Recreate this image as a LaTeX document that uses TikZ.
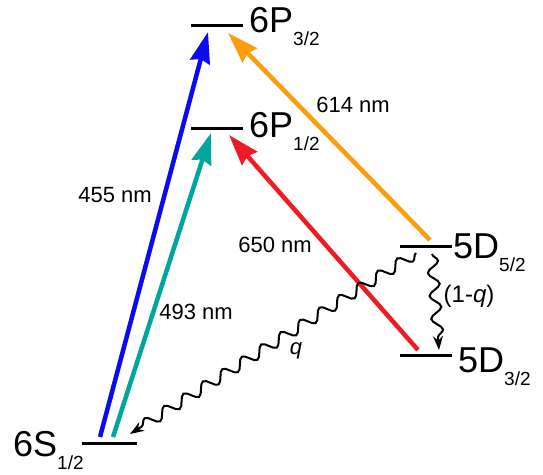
\documentclass[tikz,border=0pt]{standalone}
\usepackage{fontspec}
\setmainfont{Liberation Sans}
\usetikzlibrary{arrows.meta,decorations.pathmorphing}

% level label: big term symbol with lowered J value
\newcommand{\lvl}[2]{#1\raisebox{-13pt}{\fontsize{19}{19}\selectfont #2}}

\begin{document}
\begin{tikzpicture}[x=1pt, y=-1pt, font=\fontsize{22}{26}\selectfont,
    level/.style={line width=3pt},
    term/.style={anchor=base west, inner sep=0pt, font=\fontsize{36}{40}\selectfont},
    laser/.style={line width=4.5pt, -{Stealth[length=31pt,width=20pt,inset=3pt]}},
    decay/.style={line width=2pt, -{Stealth[length=14pt,width=10pt]},
      decorate, decoration={snake, amplitude=5.5pt, segment length=23pt, post length=9pt}}]

  \definecolor{cBlue}{RGB}{10,10,245}
  \definecolor{cTeal}{RGB}{0,166,156}
  \definecolor{cRed}{RGB}{237,28,36}
  \definecolor{cOrange}{RGB}{253,157,11}

  \useasboundingbox (0,0) rectangle (543,474);

  % levels
  \draw[level] (82,443) -- (137,443);
  \draw[level] (191,128) -- (243,128);
  \draw[level] (191,25) -- (243,25);
  \draw[level] (400,246) -- (452,246);
  \draw[level] (400,355) -- (452,355);

  \node[term] (S12) at (13,456) {\lvl{6S}{1/2}};
  \node[term] (P12) at (249,137) {\lvl{6P}{1/2}};
  \node[term] (P32) at (249,32) {\lvl{6P}{3/2}};
  \node[term] (D52) at (453,258) {\lvl{5D}{5/2}};
  \node[term] (D32) at (458,372) {\lvl{5D}{3/2}};

  % arrow ends on the levels
  \coordinate (sBlue) at (100,437);
  \coordinate (sTeal) at (113,437);
  \coordinate (sDecay) at (130,434);
  \coordinate (pBlue) at (208,32);
  \coordinate (pOrange) at (228,33);
  \coordinate (pTeal) at (211,133);
  \coordinate (pRed) at (229,135);
  \coordinate (dOrange) at (430,240);
  \coordinate (dRed) at (418,350);
  \coordinate (dq) at (416,253);
  \coordinate (dOne) at (432,254);
  \coordinate (dThree) at (439,350);

  % lasers
  \draw[laser, cBlue] (sBlue) -- (pBlue);
  \draw[laser, cTeal] (sTeal) -- (pTeal);
  \draw[laser, cRed] (dRed) -- (pRed);
  \draw[laser, cOrange] (dOrange) -- (pOrange);

  % spontaneous decay
  \draw[decay] (dq) -- (sDecay);
  \draw[decay] (dOne) -- (dThree);

  % labels
  \node (l455) at (115,195) {455 nm};
  \node (l493) at (196,312) {493 nm};
  \node (l650) at (275,245) {650 nm};
  \node (l614) at (353,105) {614 nm};
  \node (lq) at (296,351) {\itshape q};
  \node[font=\fontsize{24}{28}\selectfont] (lOne) at (469,296) {(1-\textit{q})};

\end{tikzpicture}
\end{document}
